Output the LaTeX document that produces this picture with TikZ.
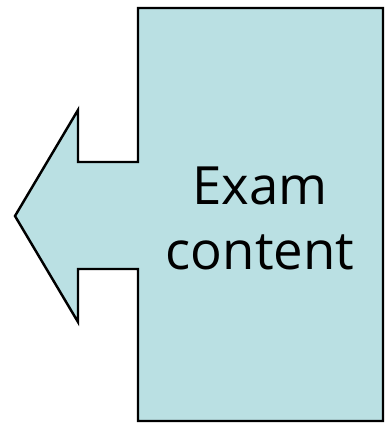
\documentclass[tikz,border=0pt]{standalone}
\usepackage{fontspec}
\setsansfont{Open Sans}
\usepackage{xcolor}
\definecolor{calloutfill}{HTML}{BAE0E3}
\usetikzlibrary{positioning}

\begin{document}
\begin{tikzpicture}[
  x=0.02cm, y=-0.02cm,
  callout/.style={draw=black, fill=calloutfill, line width=1.4pt, line join=miter},
  label/.style={font=\sffamily\fontsize{30}{37}\selectfont, align=center}
]
\useasboundingbox (0,0) rectangle (390,423);
% left-pointing callout box
\draw[callout] (138,8) -- (383,8) -- (383,421) -- (138,421) -- (138,269)
  -- (78,269) -- (78,322) -- (15,216) -- (78,110) -- (78,162) -- (138,162) -- cycle;
\node[label] (content) at (260,218) {Exam\\content};
\end{tikzpicture}
\end{document}
